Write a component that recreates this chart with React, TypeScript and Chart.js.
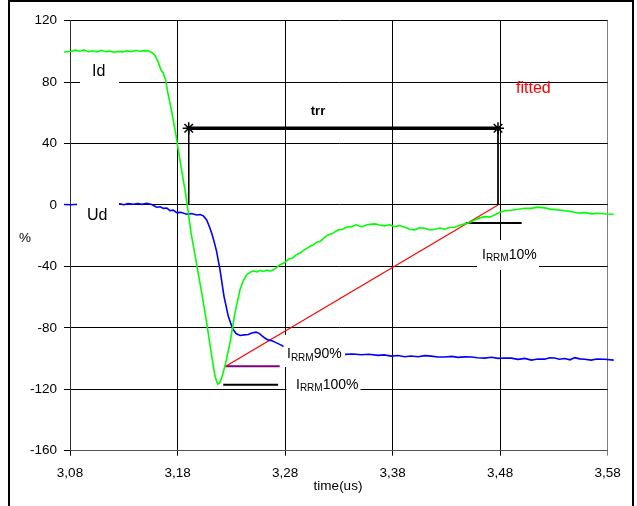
import { useEffect, useRef } from "react";
import { Chart, registerables } from "chart.js";

Chart.register(...registerables);

// ---- axes ----
const X_MIN = 3.08;
const X_MAX = 3.58;
const X_STEP = 0.1;
const Y_MIN = -160;
const Y_MAX = 120;
const Y_STEP = 40;

// ---- Id (green) ----
const idTime = [
  3.0745, 3.0805, 3.085, 3.089, 3.093, 3.097, 3.101, 3.105, 3.109, 3.113, 3.117, 3.121, 3.125, 3.129,
  3.133, 3.137, 3.141, 3.145, 3.149, 3.153, 3.1555, 3.159, 3.162, 3.1646, 3.1668, 3.169, 3.171, 3.174,
  3.1767, 3.1786, 3.1804, 3.183, 3.185, 3.187, 3.189, 3.1925, 3.1956, 3.2025, 3.2071, 3.2118, 3.2148,
  3.2173, 3.219, 3.2211, 3.2241, 3.2288, 3.2334, 3.2381, 3.241, 3.2443, 3.2475, 3.2505, 3.254, 3.2567,
  3.26, 3.2629, 3.266, 3.2691, 3.272, 3.2753, 3.279, 3.2834, 3.287, 3.2905, 3.2939, 3.2975, 3.301,
  3.304, 3.3062, 3.3095, 3.3125, 3.316, 3.3199, 3.324, 3.3292, 3.333, 3.337, 3.3416, 3.346, 3.3509,
  3.355, 3.359, 3.3633, 3.368, 3.3726, 3.377, 3.3819, 3.3865, 3.3912, 3.396, 3.4005, 3.405, 3.4098,
  3.4145, 3.4191, 3.424, 3.4284, 3.433, 3.4377, 3.442, 3.447, 3.4515, 3.4563, 3.461, 3.4656, 3.47,
  3.4749, 3.4795, 3.4842, 3.49, 3.4966, 3.503, 3.509, 3.515, 3.5214, 3.527, 3.5338, 3.54, 3.5462,
  3.552, 3.5586, 3.565, 3.571, 3.578, 3.5856,
];
const idValue = [
  99.6, 99.9, 100.8, 100.1, 101.0, 99.8, 100.4, 99.7, 100.7, 99.8, 100.2, 99.5, 100.0, 99.7,
  100.4, 99.9, 100.6, 100.1, 100.5, 100.2, 99.5, 97.5, 93.0, 88.0, 85.8, 81.0, 73.0, 63.0,
  52.5, 45.4, 37.0, 26.0, 17.5, 9.7, 0.0, -18.0, -30.0, -57.3, -76.7, -98.4, -111.4,
  -116.7, -116.0, -112.4, -104.9, -89.7, -70.3, -55.1, -49.5, -45.4, -43.8, -43.0, -43.6, -42.6,
  -43.3, -42.4, -43.1, -42.2, -40.8, -38.9, -37.8, -35.2, -34.6, -32.3, -31.3, -29.4, -27.9,
  -26.6, -26.0, -24.2, -23.8, -21.6, -19.5, -18.6, -16.2, -16.0, -14.5, -14.1, -12.9, -14.1,
  -13.2, -12.6, -12.3, -13.0, -13.6, -12.9, -14.1, -13.4, -14.5, -15.8, -16.2, -14.9, -15.1,
  -16.3, -15.8, -15.0, -15.8, -14.7, -14.5, -13.4, -12.3, -11.6, -9.7, -8.4, -7.6, -7.9,
  -6.5, -4.8, -3.7, -3.4, -2.8, -2.1, -2.2, -1.4, -1.9, -2.7, -3.2, -3.8, -4.3,
  -5.2, -5.0, -5.8, -5.4, -5.9, -6.0,
];

// ---- Ud (blue) ----
const udTime = [
  3.0745, 3.0805, 3.088, 3.096, 3.104, 3.112, 3.12, 3.1265, 3.13, 3.134, 3.1389, 3.143, 3.147, 3.1513,
  3.156, 3.1606, 3.164, 3.1668, 3.17, 3.173, 3.176, 3.1792, 3.183, 3.1885, 3.193, 3.1978, 3.201,
  3.204, 3.2071, 3.2102, 3.2125, 3.2148, 3.2164, 3.2195, 3.2232, 3.2272, 3.2309, 3.2344, 3.2381,
  3.242, 3.2458, 3.249, 3.253, 3.256, 3.2583, 3.2615, 3.2644, 3.2675, 3.2706, 3.2745, 3.2783, 3.295,
  3.315, 3.336, 3.343, 3.3509, 3.358, 3.3664, 3.372, 3.3788, 3.385, 3.3912, 3.397, 3.4036, 3.41,
  3.416, 3.422, 3.4284, 3.435, 3.4408, 3.447, 3.4532, 3.459, 3.4656, 3.472, 3.478, 3.484, 3.4904,
  3.4966, 3.503, 3.509, 3.515, 3.5214, 3.526, 3.5307, 3.535, 3.54, 3.545, 3.5493, 3.554, 3.5586,
  3.5647, 3.57, 3.5772, 3.5856,
];
const udValue = [
  0.3, 0.2, 0.5, -0.2, 0.4, 0.1, 0.6, 0.7, 0.2, 0.9, 0.5, 1.0, 0.4, 1.1,
  0.3, -1.5, -1.2, -2.2, -2.0, -3.7, -3.4, -5.0, -4.8, -6.0, -5.6, -6.5, -6.2,
  -7.1, -9.7, -15.1, -20.0, -26.0, -30.5, -42.2, -59.5, -72.5, -80.0, -83.7, -85.0,
  -84.6, -84.3, -83.4, -82.8, -83.6, -85.0, -86.8, -88.0, -88.3, -89.3, -90.6, -91.9, -94.5,
  -96.0, -97.3, -97.0, -97.5, -97.2, -97.9, -97.6, -98.4, -98.0, -98.8, -98.3, -98.8, -98.1,
  -98.4, -99.0, -99.0, -98.6, -99.2, -98.9, -99.0, -99.5, -99.7, -99.2, -99.9, -99.6, -99.7,
  -100.5, -99.9, -101.0, -100.3, -100.4, -99.5, -99.6, -100.4, -100.0, -100.8, -99.4, -100.2, -100.5,
  -101.0, -100.3, -100.5, -101.0,
];

// ---- construction lines ----
const fittedTime = [3.2248, 3.478];
const fittedValue = [-105, 0];
const irrm90Time = [3.2245, 3.275];
const irrm90Value = [-105, -105];
const irrm100Time = [3.2225, 3.2735];
const irrm100Value = [-117, -117];
const irrm10Time = [3.448, 3.5];
const irrm10Value = [-11.7, -11.7];
const trrTime = [3.1904, 3.478];
const trrValue = [50, 50];
const trrStartTime = [3.1904, 3.1904];
const trrStartValue = [50, 0];
const trrEndTime = [3.478, 3.478];
const trrEndValue = [50, 0];

const FONT = '"Liberation Sans", Arial, sans-serif';

const pts = (t: number[], v: number[]) => t.map((x, i) => ({ x, y: v[i] }));

const line = (t: number[], v: number[], color: string, width: number, extra: any = {}) => ({
  data: pts(t, v),
  borderColor: color,
  backgroundColor: color,
  borderWidth: width,
  pointRadius: 0,
  showLine: true,
  tension: 0,
  clip: false,
  ...extra,
});

const irrm = (ctx: CanvasRenderingContext2D, x: number, base: number, suffix: string) => {
  ctx.fillStyle = "#000";
  ctx.textAlign = "left";
  ctx.textBaseline = "alphabetic";
  ctx.font = `14px ${FONT}`;
  ctx.fillText("I", x, base);
  let cx = x + ctx.measureText("I").width;
  ctx.font = `10px ${FONT}`;
  ctx.fillText("RRM", cx, base + 2.5);
  cx += ctx.measureText("RRM").width;
  ctx.font = `14px ${FONT}`;
  ctx.fillText(suffix, cx, base);
};

const overlay = {
  id: "overlay",
  afterDatasetsDraw(chart: any) {
    const ctx: CanvasRenderingContext2D = chart.ctx;
    ctx.save();
    const box = (x: number, y: number, w: number, h: number) => {
      ctx.fillStyle = "#fff";
      ctx.fillRect(x, y, w, h);
    };
    // Id / Ud labels
    box(80, 57, 39, 29);
    box(77, 198, 42, 32);
    ctx.fillStyle = "#000";
    ctx.font = `16px ${FONT}`;
    ctx.textAlign = "left";
    ctx.textBaseline = "alphabetic";
    ctx.fillText("Id", 92, 76);
    ctx.fillText("Ud", 87, 220);

    // IRRM labels
    box(283.5, 335, 61.5, 32);
    irrm(ctx, 287, 358, "90%");
    box(286.5, 374, 74, 28);
    irrm(ctx, 296, 388.5, "100%");
    box(477, 240, 62, 30);
    irrm(ctx, 482, 258.5, "10%");

    // trr
    ctx.fillStyle = "#000";
    ctx.font = `bold 13px ${FONT}`;
    ctx.textAlign = "center";
    ctx.fillText("trr", 318, 115);

    // fitted
    ctx.fillStyle = "#ff0000";
    ctx.font = `16px ${FONT}`;
    ctx.textAlign = "left";
    ctx.fillText("fitted", 516, 93);

    // axis titles
    ctx.fillStyle = "#000";
    ctx.font = `13.5px ${FONT}`;
    ctx.textAlign = "left";
    ctx.fillText("%", 19, 241.5);
    ctx.textAlign = "center";
    ctx.fillText("time(us)", 338, 490);
    ctx.restore();
  },
  afterDraw(chart: any) {
    const ctx: CanvasRenderingContext2D = chart.ctx;
    ctx.save();
    ctx.strokeStyle = "#000";
    ctx.lineWidth = 2;
    ctx.strokeRect(9, 1, 624, 520);
    ctx.restore();
  },
};

export default function App() {
  const ref = useRef<HTMLCanvasElement>(null);
  useEffect(() => {
    const chart = new Chart(ref.current as HTMLCanvasElement, {
      type: "scatter",
      data: {
        datasets: [
          line(trrStartTime, trrStartValue, "#000", 1),
          line(trrEndTime, trrEndValue, "#000", 1),
          line(idTime, idValue, "#00ff00", 1.6),
          line(udTime, udValue, "#0000ff", 1.6),
          line(fittedTime, fittedValue, "#ff0000", 1.2),
          line(irrm90Time, irrm90Value, "#800080", 2),
          line(irrm100Time, irrm100Value, "#000", 2),
          line(irrm10Time, irrm10Value, "#000", 2),
          line(trrTime, trrValue, "#000", 3.5, {
            pointRadius: 6,
            pointStyle: "star",
            pointBorderColor: "#000",
            pointBackgroundColor: "#000",
            pointBorderWidth: 1.5,
          }),
        ] as any,
      },
      options: {
        animation: false,
        responsive: false,
        events: [],
        layout: { padding: { left: 0, right: 29.3, top: 20.7, bottom: 0 } },
        plugins: { legend: { display: false }, tooltip: { enabled: false } },
        scales: {
          x: {
            type: "linear",
            min: X_MIN,
            max: X_MAX,
            ticks: {
              stepSize: X_STEP,
              autoSkip: false,
              maxRotation: 0,
              padding: 9,
              color: "#000",
              font: { family: FONT, size: 13.5 },
              callback: (v: any) => Number(v).toFixed(2).replace(".", ","),
            },
            grid: {
              color: (c: any) => (c.tick && Math.abs(c.tick.value - X_MAX) < 1e-6 ? "#808080" : "#000"),
              lineWidth: 1,
              tickLength: 5,
            },
            border: { color: "#555" },
            afterFit: (s: any) => {
              s.height = 55.3;
            },
          },
          y: {
            type: "linear",
            min: Y_MIN,
            max: Y_MAX,
            ticks: {
              stepSize: Y_STEP,
              padding: 7,
              color: "#000",
              font: { family: FONT, size: 13.5 },
            },
            grid: { color: "#000", lineWidth: 1, tickLength: 6 },
            border: { color: "#333" },
            afterFit: (s: any) => {
              s.width = 70;
            },
          },
        },
      } as any,
      plugins: [overlay],
    });
    return () => chart.destroy();
  }, []);
  return (
    <div style={{ position: "fixed", left: 0, top: 0, width: 637, height: 506, background: "#fff" }}>
      <canvas ref={ref} width={637} height={506} style={{ width: 637, height: 506, display: "block" }} />
    </div>
  );
}
